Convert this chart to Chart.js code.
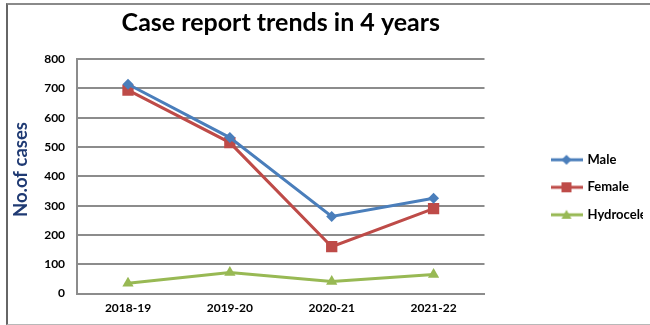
<!DOCTYPE html>
<html>
<head>
<meta charset="utf-8">
<script src="https://cdn.jsdelivr.net/npm/chart.js@4/dist/chart.umd.min.js"></script>
<style>
    body { margin: 0; background: #fff; }
    #wrap { position: absolute; left: 0; top: 0; width: 650px; height: 325px; }
    #frame {
        position: absolute; left: 6px; top: 3px; width: 650px; height: 319px;
        border-top: 2px solid #8a8a8a; border-left: 2px solid #666; border-bottom: 1px solid #b8b8b8;
    }
</style>
</head>
<body>
<div id="wrap">
    <canvas id="trendChart" width="650" height="325"></canvas>
</div>
<div id="frame"></div>
<script>
const years = ['2018-19', '2019-20', '2020-21', '2021-22'];
const maleCases = [714, 532, 263, 325];
const femaleCases = [694, 515, 160, 290];
const hydroceleCases = [35, 72, 41, 65];
const yTicks = [0, 100, 200, 300, 400, 500, 600, 700, 800];

// legend swatch: short line with the marker in the middle
function legendIcon(color, shape) {
    const c = document.createElement('canvas');
    c.width = 32;
    c.height = 14;
    const g = c.getContext('2d');
    g.strokeStyle = color;
    g.lineWidth = 3;
    g.beginPath();
    g.moveTo(0, 7);
    g.lineTo(32, 7);
    g.stroke();
    g.fillStyle = color;
    g.beginPath();
    if (shape === 'diamond') {
        g.moveTo(16, 2); g.lineTo(21, 7); g.lineTo(16, 12); g.lineTo(11, 7);
    } else if (shape === 'square') {
        g.rect(11, 2, 10, 10);
    } else {
        g.moveTo(16, 2); g.lineTo(21, 11); g.lineTo(11, 11);
    }
    g.closePath();
    g.fill();
    return c;
}

const series = [
    { label: 'Male', data: maleCases, color: '#4a7ebb', style: 'rectRot', radius: 5.5, icon: 'diamond' },
    { label: 'Female', data: femaleCases, color: '#be4b48', style: 'rect', radius: 8, icon: 'square' },
    { label: 'Hydrocele', data: hydroceleCases, color: '#98b954', style: 'triangle', radius: 6.5, icon: 'triangle' }
];

const datasets = series.map(s => ({
    label: s.label,
    data: s.data,
    borderColor: s.color,
    backgroundColor: s.color,
    borderWidth: 3,
    pointStyle: s.style,
    pointRadius: s.radius,
    pointBorderWidth: 0,
    pointBackgroundColor: s.color,
    tension: 0,
    icon: legendIcon(s.color, s.icon)
}));

const tickFont = { family: 'Lato', size: 12, weight: 'bold' };

const ctx = document.getElementById('trendChart').getContext('2d');
const myChart = new Chart(ctx, {
    type: 'line',
    data: {
        labels: years,
        datasets: datasets
    },
    options: {
        responsive: false,
        animation: false,
        layout: {
            padding: { left: 10, right: 7, top: 8, bottom: 3 }
        },
        plugins: {
            title: {
                display: true,
                text: 'Case report trends in 4 years',
                fullSize: false,
                color: '#000',
                font: { family: 'Lato', size: 25, weight: 'bold' },
                padding: { top: 0, bottom: 21 }
            },
            legend: {
                position: 'right',
                fullSize: false,
                title: {
                    // blank title, only pushes the entries down a little
                    display: true,
                    text: ' ',
                    font: { size: 10 },
                    padding: 5
                },
                labels: {
                    color: '#000',
                    font: { family: 'Lato', size: 13, weight: 'bold' },
                    usePointStyle: true,
                    pointStyleWidth: 29,
                    padding: 14.5,
                    generateLabels: chart => chart.data.datasets.map((ds, i) => ({
                        text: ds.label,
                        pointStyle: ds.icon,
                        fillStyle: ds.borderColor,
                        strokeStyle: ds.borderColor,
                        lineWidth: 0,
                        fontColor: '#000',
                        datasetIndex: i
                    }))
                }
            },
            tooltip: { enabled: false }
        },
        scales: {
            x: {
                offset: true,
                grid: { display: false, drawTicks: false },
                border: { color: '#8c8c8c', width: 2 },
                ticks: { color: '#000', font: tickFont, padding: 7 }
            },
            y: {
                min: 0,
                max: 800,
                afterBuildTicks: scale => { scale.ticks = yTicks.map(v => ({ value: v })); },
                grid: { color: '#8c8c8c', lineWidth: 2, drawTicks: false },
                border: { color: '#8c8c8c', width: 2 },
                ticks: { color: '#000', font: tickFont, padding: 12 },
                title: {
                    display: true,
                    text: '   No.of cases',
                    color: '#1f3a73',
                    font: { family: 'Lato', size: 18.5, weight: 'bold' },
                    padding: { top: 0, bottom: 0 }
                }
            },
            gap: {
                // empty space between the plot and the legend
                position: 'right',
                display: true,
                grid: { display: false },
                border: { display: false },
                ticks: { display: false },
                afterFit: scale => { scale.width = 53; }
            }
        }
    }
});
</script>
</body>
</html>
